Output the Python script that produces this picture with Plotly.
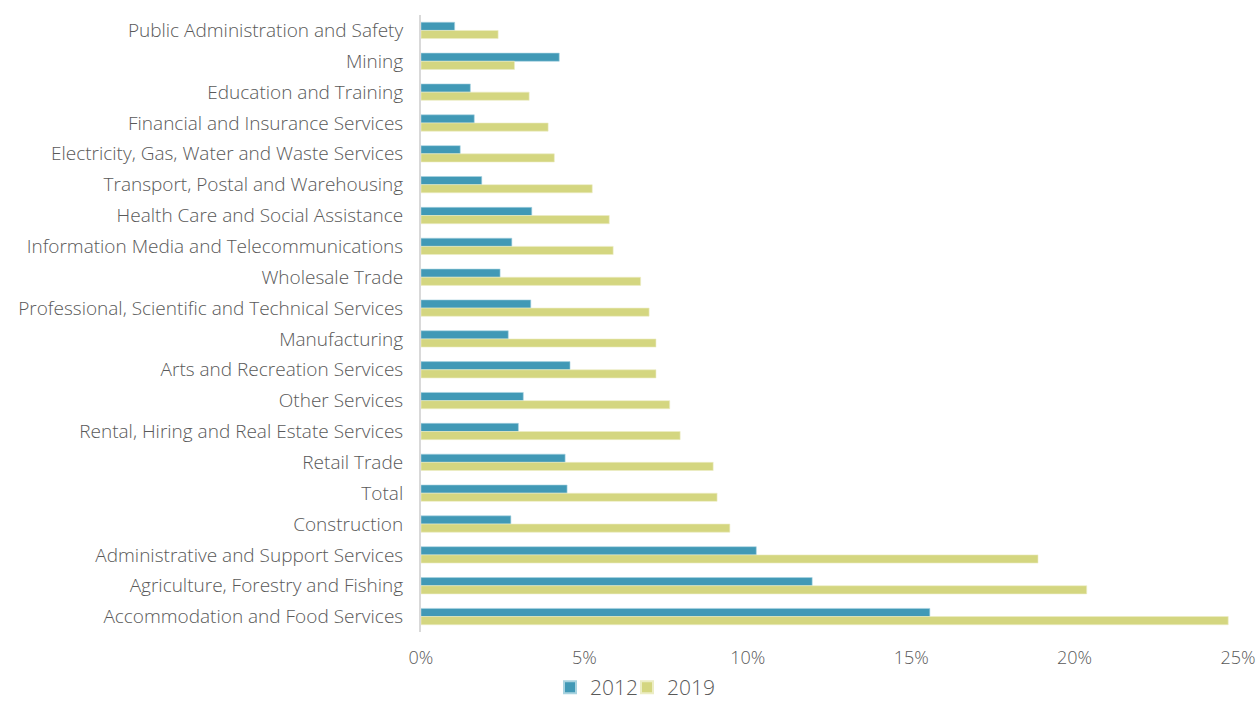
import plotly.graph_objects as go

# Industries, listed top to bottom as displayed
industries = [
    "Public Administration and Safety",
    "Mining",
    "Education and Training",
    "Financial and Insurance Services",
    "Electricity, Gas, Water and Waste Services",
    "Transport, Postal and Warehousing",
    "Health Care and Social Assistance",
    "Information Media and Telecommunications",
    "Wholesale Trade",
    "Professional, Scientific and Technical Services",
    "Manufacturing",
    "Arts and Recreation Services",
    "Other Services",
    "Rental, Hiring and Real Estate Services",
    "Retail Trade",
    "Total",
    "Construction",
    "Administrative and Support Services",
    "Agriculture, Forestry and Fishing",
    "Accommodation and Food Services",
]

# Share (%) by year
values_2012 = [1.03, 4.23, 1.51, 1.63, 1.20, 1.86, 3.39, 2.78, 2.42, 3.36,
               2.67, 4.56, 3.13, 2.98, 4.41, 4.47, 2.75, 10.26, 11.97, 15.57]
values_2019 = [2.36, 2.86, 3.31, 3.89, 4.08, 5.24, 5.76, 5.88, 6.72, 6.98,
               7.19, 7.19, 7.61, 7.93, 8.94, 9.06, 9.45, 18.88, 20.37, 24.70]

x_ticks = [0, 5, 10, 15, 20, 25]
x_tick_labels = ["0%", "5%", "10%", "15%", "20%", "25%"]

TEAL = "#4199B6"
OLIVE = "#D4D680"
TEXT = "#595959"
FONT = "Open Sans"

fig = go.Figure()
fig.add_trace(go.Bar(
    name="2012", y=industries, x=values_2012, orientation="h",
    marker=dict(color=TEAL, line=dict(color="#A9D3E0", width=0.6)),
    legend="legend",
))
fig.add_trace(go.Bar(
    name="2019", y=industries, x=values_2019, orientation="h",
    marker=dict(color=OLIVE, line=dict(color="#ECEDC4", width=0.6)),
    legend="legend2",
))

legend_style = dict(
    orientation="h",
    xref="container", yref="container",
    xanchor="left",
    y=0, yanchor="bottom",
    font=dict(family=FONT, size=21, color=TEXT, weight=300),
    itemwidth=30,
    itemsizing="constant",
    bgcolor="rgba(0,0,0,0)",
)

fig.update_layout(
    width=1260, height=708,
    margin=dict(l=421, r=22, t=15, b=76, autoexpand=False),
    barmode="group",
    bargap=0.47,
    bargroupgap=0.0,
    plot_bgcolor="white",
    paper_bgcolor="white",
    font=dict(family=FONT, size=19, color=TEXT, weight=300),
    showlegend=True,
    legend=dict(legend_style, x=550 / 1260),
    legend2=dict(legend_style, x=627 / 1260),
)

fig.update_xaxes(
    range=[0, 25],
    tickvals=x_ticks,
    ticktext=x_tick_labels,
    showgrid=False,
    zeroline=False,
    showline=False,
    ticks="outside",
    ticklen=9,
    tickcolor="rgba(0,0,0,0)",
    automargin=False,
    tickfont=dict(family=FONT, size=18, color=TEXT, weight=300),
)
fig.update_yaxes(
    autorange="reversed",
    categoryorder="array",
    categoryarray=industries,
    showgrid=False,
    showline=True,
    linecolor="#D9D9D9",
    linewidth=2,
    ticks="outside",
    ticklen=12,
    tickcolor="rgba(0,0,0,0)",
    automargin=False,
    tickfont=dict(family=FONT, size=19, color=TEXT, weight=300),
)

fig.write_html("out.html")
